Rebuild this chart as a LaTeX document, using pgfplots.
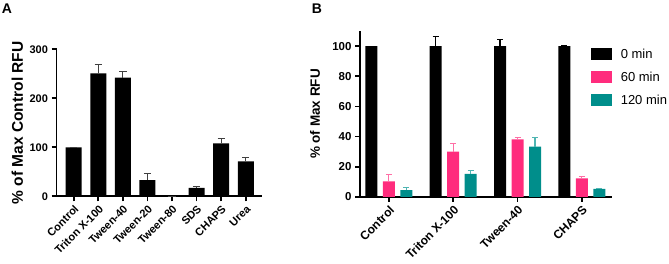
\documentclass[border=0pt]{standalone}
\usepackage{pgfplots}
\pgfplotsset{compat=1.18}
\usepackage{fontspec}
\setmainfont{Liberation Sans}

\definecolor{pinkbar}{HTML}{FF2C7D}
\definecolor{pinkerr}{HTML}{FF6FA6}
\definecolor{tealbar}{HTML}{008E8B}
\definecolor{tealerr}{HTML}{4FB5B2}

\pgfplotsset{
  panel/.style={
    scale only axis,
    axis x line*=bottom, axis y line*=left,
    axis line style={-, line width=1.6pt},
    tick style={line width=1.6pt, black},
    tick align=outside, major tick length=5pt,
    ymin=0,
    /pgf/number format/assume math mode=true,
    ybar,
    every axis y label/.style={rotate=90, anchor=center},
  },
}

\begin{document}
\begin{tikzpicture}
\path[use as bounding box] (0pt,0pt) rectangle (669pt,264pt);

\node[anchor=north west, inner sep=0pt, font=\bfseries\fontsize{14}{14}\selectfont] at (1.7pt,260pt) {A};
\node[anchor=north west, inner sep=0pt, font=\bfseries\fontsize{14}{14}\selectfont] at (311.7pt,260.5pt) {B};

% Panel A: signal relative to the control
\begin{axis}[panel,
  at={(56.5pt,67.7pt)}, anchor=south west,
  width=205.5pt, height=147pt,
  xmin=-0.7, xmax=7.66, ymax=300,
  ytick={0,100,200,300},
  xtick={0,...,7},
  xticklabels={Control,Triton X-100,Tween-40,Tween-20,Tween-80,SDS,CHAPS,Urea},
  xticklabel style={rotate=45, anchor=north east, inner sep=2pt, font=\bfseries\fontsize{11}{11}\selectfont},
  yticklabel style={font=\bfseries\fontsize{11}{11}\selectfont},
  ylabel={\% of Max Control RFU},
  ylabel style={at={(axis description cs:-0.19,0.5)}, font=\bfseries\fontsize{15.5}{15.5}\selectfont},
  bar width=16pt,
]
\addplot[fill=black, draw=none,
  error bars/.cd, y dir=plus, y explicit,
  error bar style={line width=1.1pt, black!75},
  error mark options={rotate=90, mark size=3.7pt, line width=1.1pt, black!75}]
  table[x=x, y=y, y error=e] {
x y e
0 100 0
1 251 18
2 242 13
3 33 14
4 0 0
5 17 2.5
6 108 10
7 71.5 8
};
\end{axis}

% Panel B: signal over time for each detergent
\begin{axis}[panel,
  at={(360pt,67pt)}, anchor=south west,
  width=252pt, height=166pt,
  xmin=-0.45, xmax=3.47, ymax=110,
  ytick={0,20,...,100},
  xtick={0,...,3},
  xticklabels={Control,Triton X-100,Tween-40,CHAPS},
  xticklabel style={rotate=45, anchor=north east, inner sep=2pt, font=\bfseries\fontsize{12}{12}\selectfont},
  yticklabel style={font=\bfseries\fontsize{11.5}{11.5}\selectfont},
  ylabel={\% of Max RFU},
  ylabel style={at={(axis description cs:-0.1786,0.5)}, font=\bfseries\fontsize{13.5}{13.5}\selectfont},
  ybar=5.5pt, bar width=12pt,
  legend image code/.code={\fill[#1] (0pt,-6pt) rectangle (21pt,6pt);},
  legend style={draw=none, fill=none, at={(0.917,0.898)}, anchor=north west,
    inner sep=0pt, row sep=11pt, column sep=8.5pt, nodes={inner sep=0pt},
    font=\fontsize{13}{13}\selectfont},
  legend cell align=left,
]
\addplot[fill=black, draw=none,
  error bars/.cd, y dir=plus, y explicit,
  error bar style={line width=1.1pt, black},
  error mark options={rotate=90, mark size=3pt, line width=1.1pt, black}]
  table[x=x, y=y, y error=e] {
x y e
0 100 0
1 100 6.2
2 100 4.2
3 100 0.3
};
\addplot[fill=pinkbar, draw=none,
  error bars/.cd, y dir=plus, y explicit,
  error bar style={line width=1.1pt, pinkerr},
  error mark options={rotate=90, mark size=3pt, line width=1.1pt, pinkerr}]
  table[x=x, y=y, y error=e] {
x y e
0 10.3 4.5
1 30 5.5
2 38.2 1.3
3 12.4 1.1
};
\addplot[fill=tealbar, draw=none,
  error bars/.cd, y dir=plus, y explicit,
  error bar style={line width=1.1pt, tealerr},
  error mark options={rotate=90, mark size=3pt, line width=1.1pt, tealerr}]
  table[x=x, y=y, y error=e] {
x y e
0 4.6 1.7
1 15.3 2.2
2 33.4 5.8
3 5.4 0.3
};
\legend{0 min,60 min,120 min}
\end{axis}
\end{tikzpicture}
\end{document}
